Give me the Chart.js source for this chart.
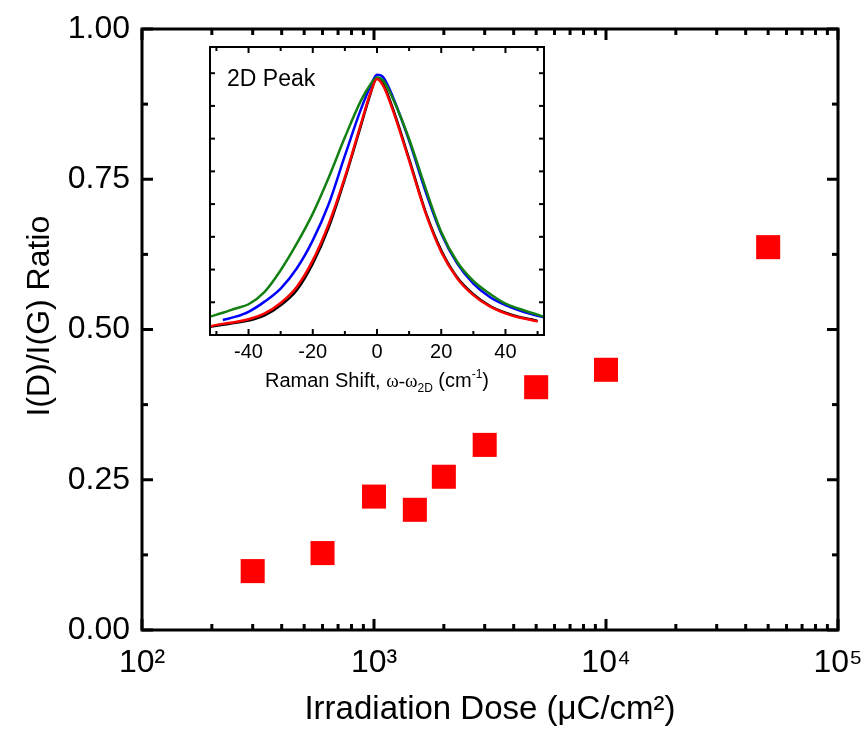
<!DOCTYPE html>
<html>
<head>
<meta charset="utf-8">
<script src="https://cdn.jsdelivr.net/npm/chart.js@4.4.1/dist/chart.umd.min.js"></script>
<style>
  html, body { margin: 0; padding: 0; background: #fff; }
  #wrap { position: relative; width: 864px; height: 731px; }
  #mainChart { position: absolute; left: 0; top: 0; }
  #insetChart { position: absolute; left: 200px; top: 40px; }
</style>
</head>
<body>
<div id="wrap">
  <canvas id="mainChart" width="864" height="731"></canvas>
  <canvas id="insetChart" width="360" height="365"></canvas>
</div>
<script>
// ---- main data: I(D)/I(G) vs irradiation dose ----
const doses = [300, 600, 1000, 1500, 2000, 3000, 5000, 10000, 50000];
const ratios = [0.098, 0.128, 0.222, 0.200, 0.255, 0.308, 0.404, 0.433, 0.637];
const doseTicks = [100, 1000, 10000, 100000];
const ratioTicks = [0, 0.25, 0.5, 0.75, 1];

// ---- inset data: 2D peak profiles ----
const shiftRed = [-52, -48, -44, -40, -35, -30, -25, -20, -15, -10, -5, -2, 0, 2, 5, 10, 15, 20, 25, 30, 35, 40, 44, 48, 50];
const peakRed = [0.027, 0.034, 0.040, 0.048, 0.066, 0.098, 0.147, 0.228, 0.340, 0.482, 0.645, 0.741, 0.782, 0.760, 0.685, 0.533, 0.376, 0.254, 0.173, 0.122, 0.088, 0.066, 0.054, 0.046, 0.041];
const peakBlack = [0.025, 0.031, 0.037, 0.044, 0.060, 0.091, 0.137, 0.218, 0.330, 0.477, 0.640, 0.738, 0.785, 0.765, 0.690, 0.538, 0.380, 0.259, 0.176, 0.125, 0.090, 0.068, 0.056, 0.048, 0.043];
const shiftBlue = [-48, -44, -40, -35, -30, -25, -20, -15, -10, -5, -2, 0, 2, 5, 10, 15, 20, 25, 30, 35, 40, 44, 48, 52];
const peakBlue = [0.046, 0.056, 0.071, 0.102, 0.142, 0.203, 0.289, 0.401, 0.548, 0.690, 0.761, 0.795, 0.787, 0.726, 0.594, 0.442, 0.310, 0.218, 0.157, 0.117, 0.091, 0.076, 0.064, 0.054];
const shiftGreen = [-52, -48, -44, -40, -35, -30, -25, -20, -15, -10, -5, -2, 0, 2, 5, 10, 15, 20, 25, 30, 35, 40, 44, 48, 52];
const peakGreen = [0.056, 0.068, 0.081, 0.094, 0.132, 0.198, 0.279, 0.371, 0.482, 0.604, 0.716, 0.766, 0.787, 0.777, 0.721, 0.599, 0.452, 0.315, 0.223, 0.165, 0.127, 0.096, 0.081, 0.068, 0.056];
const shiftTicks = [-40, -20, 0, 20, 40];

const FONT = "'Liberation Sans', Arial, sans-serif";

const toXY = (xs, ys) => xs.map((x, i) => ({ x, y: ys[i] }));

// frame + inward ticks on all four sides
const frameTicks = {
  id: 'frameTicks',
  afterDatasetsDraw(chart, args, opts) {
    const { ctx, chartArea: a, scales } = chart;
    ctx.save();
    ctx.strokeStyle = '#000';
    ctx.lineWidth = opts.lineWidth;
    ctx.lineCap = 'butt';
    const line = (x1, y1, x2, y2) => { ctx.beginPath(); ctx.moveTo(x1, y1); ctx.lineTo(x2, y2); ctx.stroke(); };
    opts.xTicks.forEach(t => {
      const px = scales.x.getPixelForValue(t.v);
      line(px, a.bottom, px, a.bottom - t.len);
      line(px, a.top, px, a.top + t.len);
    });
    opts.yTicks.forEach(t => {
      const py = scales.y.getPixelForValue(t.v);
      line(a.left, py, a.left + t.len, py);
      line(a.right, py, a.right - t.len, py);
    });
    ctx.strokeRect(a.left, a.top, a.right - a.left, a.bottom - a.top);
    ctx.restore();
  }
};

// main chart tick lists
const mainXTicks = [];
[100, 1000, 10000].forEach(dec => {
  for (let m = 1; m < 10; m++) mainXTicks.push({ v: dec * m, len: m === 1 ? 11 : 6 });
});
mainXTicks.push({ v: 100000, len: 11 });
const mainYTicks = [];
for (let i = 0; i <= 8; i++) mainYTicks.push({ v: i * 0.125, len: i % 2 === 0 ? 11 : 6 });

new Chart(document.getElementById('mainChart'), {
  type: 'scatter',
  data: {
    datasets: [{
      data: toXY(doses, ratios),
      pointStyle: 'rect',
      radius: 17,
      hoverRadius: 17,
      backgroundColor: '#ff0000',
      borderWidth: 0
    }]
  },
  options: {
    responsive: false,
    animation: false,
    layout: { padding: { top: 29, right: 26, left: 0, bottom: 0 } },
    plugins: {
      legend: { display: false },
      tooltip: { enabled: false },
      frameTicks: { lineWidth: 3, xTicks: mainXTicks, yTicks: mainYTicks }
    },
    scales: {
      x: {
        type: 'logarithmic',
        min: 100, max: 100000,
        afterBuildTicks: s => { s.ticks = doseTicks.map(v => ({ value: v })); },
        afterFit: s => { s.height = 101; s.paddingLeft = 0; s.paddingRight = 0; },
        grid: { display: false, drawTicks: false },
        border: { display: false },
        ticks: {
          padding: 14, maxRotation: 0, autoSkip: false,
          color: '#000', font: { family: FONT, size: 32 },
          callback: v => '10' + ['⁰', '¹', '²', '³', '⁴', '⁵'][Math.round(Math.log10(v))]
        },
        title: {
          display: true, text: 'Irradiation Dose (μC/cm²)', color: '#000',
          font: { family: FONT, size: 33 }, padding: { top: 0, bottom: 1 }
        }
      },
      y: {
        min: 0, max: 1,
        afterBuildTicks: s => { s.ticks = ratioTicks.map(v => ({ value: v })); },
        afterFit: s => { s.width = 142; s.paddingTop = 0; s.paddingBottom = 0; },
        grid: { display: false, drawTicks: false },
        border: { display: false },
        ticks: {
          padding: 12, color: '#000', font: { family: FONT, size: 32 },
          callback: v => v.toFixed(2)
        },
        title: {
          display: true, text: '   I(D)/I(G) Ratio', color: '#000',
          font: { family: FONT, size: 32 }, padding: { top: 21, bottom: 0 }
        }
      }
    }
  },
  plugins: [frameTicks]
});

// inset: label text with sub/superscripts and the "2D Peak" note
const insetText = {
  id: 'insetText',
  afterDraw(chart) {
    const { ctx, chartArea: a } = chart;
    ctx.save();
    ctx.fillStyle = '#000';
    ctx.textBaseline = 'alphabetic';
    ctx.textAlign = 'left';
    ctx.font = `23px ${FONT}`;
    ctx.fillText('2D Peak', a.left + 17, a.top + 39);

    const serif = "'Liberation Serif', 'Times New Roman', serif";
    const parts = [
      { t: 'Raman Shift, ', f: `20px ${FONT}`, dy: 0 },
      { t: 'ω-ω', f: `19px ${serif}`, dy: 0 },
      { t: '2D', f: `12px ${FONT}`, dy: 5 },
      { t: ' (cm', f: `20px ${FONT}`, dy: 0 },
      { t: '-1', f: `12px ${FONT}`, dy: -9 },
      { t: ')', f: `20px ${FONT}`, dy: 0 }
    ];
    let total = 0;
    parts.forEach(p => { ctx.font = p.f; p.w = ctx.measureText(p.t).width; total += p.w; });
    let x = (a.left + a.right) / 2 - total / 2;
    const base = a.bottom + 52;
    parts.forEach(p => { ctx.font = p.f; ctx.fillText(p.t, x, base + p.dy); x += p.w; });
    ctx.restore();
  }
};

// white only behind the inset plot box and its labels, so main squares stay visible
const whiteBg = {
  id: 'whiteBg',
  beforeDraw(chart) {
    const { ctx, chartArea: a } = chart;
    ctx.save();
    ctx.fillStyle = '#fff';
    ctx.fillRect(a.left - 2, a.top - 2, a.right - a.left + 4, a.bottom - a.top + 4);
    ctx.fillRect(a.left - 2, a.bottom, 300, 62);
    ctx.restore();
  }
};

const insetXTicks = [];
for (let v = -50; v <= 50; v += 10) insetXTicks.push({ v, len: v % 20 === 0 ? 6 : 4 });
const insetYTicks = [];
for (let i = 1; i <= 8; i++) insetYTicks.push({ v: i * 0.1, len: 5 });

const lineDs = (xs, ys, color) => ({
  data: toXY(xs, ys),
  borderColor: color,
  borderWidth: 2.5,
  pointRadius: 0,
  fill: false,
  cubicInterpolationMode: 'monotone'
});

// first dataset is painted on top
new Chart(document.getElementById('insetChart'), {
  type: 'line',
  data: {
    datasets: [
      lineDs(shiftRed, peakRed, '#ff0000'),
      lineDs(shiftGreen, peakGreen, '#138013'),
      lineDs(shiftBlue, peakBlue, '#0000ff'),
      lineDs(shiftRed, peakBlack, '#000000')
    ]
  },
  options: {
    responsive: false,
    animation: false,
    layout: { padding: { top: 7, right: 16, left: 10, bottom: 0 } },
    plugins: {
      legend: { display: false },
      tooltip: { enabled: false },
      frameTicks: { lineWidth: 2, xTicks: insetXTicks, yTicks: insetYTicks }
    },
    scales: {
      x: {
        type: 'linear',
        min: -52, max: 52,
        afterBuildTicks: s => { s.ticks = shiftTicks.map(v => ({ value: v })); },
        afterFit: s => { s.height = 70; s.paddingLeft = 0; s.paddingRight = 0; },
        grid: { display: false, drawTicks: false },
        border: { display: false },
        ticks: { padding: 5, maxRotation: 0, autoSkip: false, color: '#000', font: { family: FONT, size: 20 } }
      },
      y: { display: false, min: 0, max: 0.88 }
    }
  },
  plugins: [whiteBg, frameTicks, insetText]
});
</script>
</body>
</html>
